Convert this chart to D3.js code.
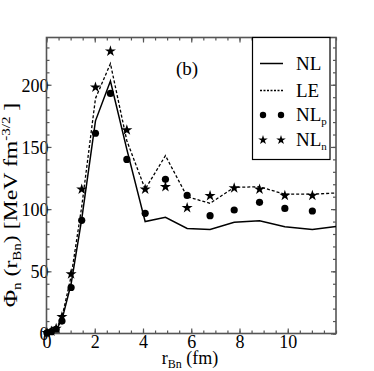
<!DOCTYPE html>
<html><head><meta charset="utf-8">
<script src="https://cdn.jsdelivr.net/npm/d3@7"></script>
<style>
body{margin:0;background:#fff;}
svg{display:block;font-family:"Liberation Serif","DejaVu Serif",serif;}
</style></head>
<body>
<svg id="c" width="374" height="371"></svg>
<script>
// Data
const rGrid = [0.02, 0.2, 0.4, 0.64, 1.02, 1.46, 2.03, 2.65, 3.33, 4.09, 4.93, 5.83, 6.78, 7.78, 8.83, 9.88, 11.02, 12.0];
const nlLine = [0, 1, 3, 11, 40, 92, 171, 203, 148, 90, 93.4, 84.5, 83.7, 89.4, 90.7, 85.9, 83.7, 86];
const leLine = [0, 1.2, 3.5, 13, 46, 102, 189, 217, 155, 116, 143, 110, 104.7, 117.5, 118, 112, 112, 113];
const rPts = [0.02, 0.2, 0.4, 0.64, 1.02, 1.46, 2.03, 2.65, 3.33, 4.09, 4.93, 5.83, 6.78, 7.78, 8.83, 9.88, 11.02];
const nlP = [0.5, 1.5, 3.4, 10, 37, 91, 161, 193, 140, 96.6, 124, 111, 94.7, 99.3, 105.5, 100.6, 98.5];
const nlN = [0.5, 1.8, 4, 13.5, 47.8, 116, 198, 227, 163.6, 116, 118, 101, 110.8, 117, 116, 111, 111];
const xTicks = [0, 2, 4, 6, 8, 10];
const yTicks = [0, 50, 100, 150, 200];
const legendLabels = ["NL", "LE", "NL", "NL"];
const legendSubs = ["", "", "p", "n"];

const svg = d3.select("#c");
const x = d3.scaleLinear().domain([0, 12]).range([46.5, 336]);
const y = d3.scaleLinear().domain([0, 238]).range([333.5, 37.5]);
const axisColor = "#555";

const xMinor = d3.range(0, 12.01, 0.5);
const yMinor = d3.range(0, 238, 10);

function drawAxis(gen, transform){
  const g = svg.append("g").attr("transform", transform).call(gen);
  g.select(".domain").remove();
  g.selectAll("line").attr("stroke", axisColor).attr("stroke-width", 1.2);
  return g;
}
// bottom
drawAxis(d3.axisBottom(x).tickValues(xMinor).tickSize(-3).tickFormat(""), `translate(0,${y(0)})`);
const gb = drawAxis(d3.axisBottom(x).tickValues(xTicks).tickSize(-5).tickPadding(2).tickFormat(d3.format("d")), `translate(0,${y(0)})`);
gb.selectAll("text").attr("font-size", 18).attr("fill", "#000").attr("font-family", "Liberation Serif, serif");
// top
drawAxis(d3.axisTop(x).tickValues(xMinor).tickSize(-3).tickFormat(""), `translate(0,${y(238)})`);
drawAxis(d3.axisTop(x).tickValues(xTicks).tickSize(-5).tickFormat(""), `translate(0,${y(238)})`);
// left
drawAxis(d3.axisLeft(y).tickValues(yMinor).tickSize(-3).tickFormat(""), `translate(${x(0)},0)`);
const gl = drawAxis(d3.axisLeft(y).tickValues(yTicks).tickSize(-5).tickPadding(-2).tickFormat(d3.format("d")), `translate(${x(0)},0)`);
gl.selectAll("text").attr("font-size", 18).attr("fill", "#000").attr("font-family", "Liberation Serif, serif").attr("dy", "0.35em");
// right
drawAxis(d3.axisRight(y).tickValues(yMinor).tickSize(-3).tickFormat(""), `translate(${x(12)},0)`);
drawAxis(d3.axisRight(y).tickValues(yTicks).tickSize(-5).tickFormat(""), `translate(${x(12)},0)`);

// frame
svg.append("rect").attr("x", x(0)).attr("y", y(238)).attr("width", x(12)-x(0)).attr("height", y(0)-y(238))
  .attr("fill", "none").attr("stroke", axisColor).attr("stroke-width", 1.6);

// lines
const line = d3.line().x(d => x(d[0])).y(d => y(d[1]));
svg.append("path").datum(rGrid.map((r,i)=>[r, nlLine[i]])).attr("d", line)
  .attr("fill","none").attr("stroke","#000").attr("stroke-width",1.5);
svg.append("path").datum(rGrid.map((r,i)=>[r, leLine[i]])).attr("d", line)
  .attr("fill","none").attr("stroke","#000").attr("stroke-width",1.3).attr("stroke-dasharray","3,2");

// markers
const star = d3.symbol().type(d3.symbolStar).size(38);
svg.append("g").selectAll("circle").data(rPts.map((r,i)=>[r,nlP[i]])).join("circle")
  .attr("cx", d=>x(d[0])).attr("cy", d=>y(d[1])).attr("r", 3.6).attr("fill","#000");
svg.append("g").selectAll("path").data(rPts.map((r,i)=>[r,nlN[i]])).join("path")
  .attr("d", star).attr("transform", d=>`translate(${x(d[0])},${y(d[1])})`).attr("fill","#000");

// (b) label
svg.append("text").attr("x", 187).attr("y", 75).attr("text-anchor","middle").attr("font-size",19).text("(b)");

// legend
const lg = svg.append("g");
lg.append("rect").attr("x",252.5).attr("y",37.5).attr("width",77.5).attr("height",122)
  .attr("fill","#fff").attr("stroke","#000").attr("stroke-width",1.2);
const ly = [63.5, 90.5, 115, 140];
legendLabels.forEach((lab,i)=>{
  const t = lg.append("text").attr("x",296).attr("y",ly[i]+6).attr("font-size",19).text(lab);
  if (legendSubs[i]) t.append("tspan").attr("font-size",11).attr("dy",4).text(legendSubs[i]);
});
lg.append("line").attr("x1",260).attr("x2",283).attr("y1",ly[0]).attr("y2",ly[0]).attr("stroke","#000").attr("stroke-width",1.5);
lg.append("line").attr("x1",260).attr("x2",283).attr("y1",ly[1]).attr("y2",ly[1]).attr("stroke","#000").attr("stroke-width",1.3).attr("stroke-dasharray","2,1.5");
[263, 281].forEach(cx=>{
  lg.append("circle").attr("cx",cx).attr("cy",ly[2]).attr("r",3.2).attr("fill","#000");
  lg.append("path").attr("d", d3.symbol().type(d3.symbolStar).size(28)).attr("transform",`translate(${cx},${ly[3]})`).attr("fill","#000");
});

// axis titles
const xt = svg.append("text").attr("x",190).attr("y",364).attr("text-anchor","middle").attr("font-size",18);
xt.append("tspan").text("r");
xt.append("tspan").attr("font-size",12).attr("dy",4).text("Bn");
xt.append("tspan").attr("dy",-4).text(" (fm)");

const yt = svg.append("text").attr("transform","translate(17,205) rotate(-90) scale(1.25,1)").attr("text-anchor","middle").attr("font-size",19);
yt.append("tspan").text("Φ");
yt.append("tspan").attr("font-size",12).attr("dy",4).text("n");
yt.append("tspan").attr("dy",-4).text(" (r");
yt.append("tspan").attr("font-size",12).attr("dy",4).text("Bn");
yt.append("tspan").attr("dy",-4).text(") [MeV fm");
yt.append("tspan").attr("font-size",12).attr("dy",-7).text("-3/2");
yt.append("tspan").attr("dy",7).text(" ]");
</script>
</body></html>
